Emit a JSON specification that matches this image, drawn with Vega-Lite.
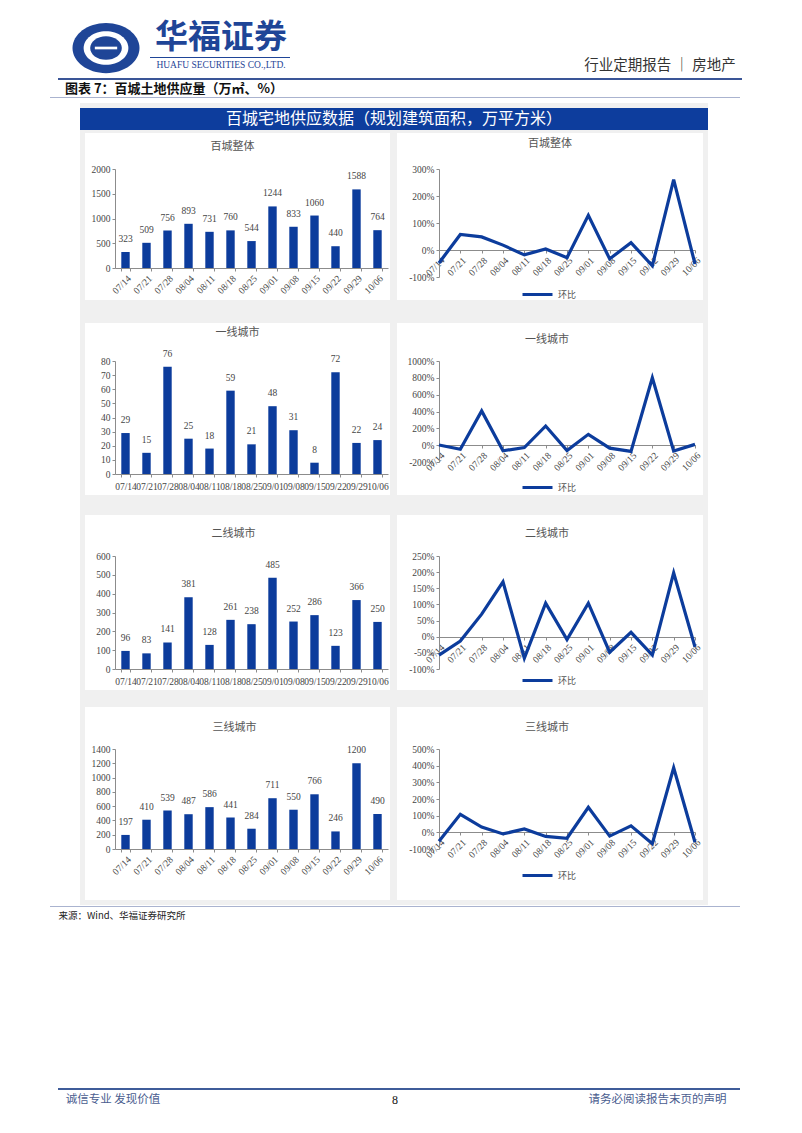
{
"$schema": "https://vega.github.io/schema/vega-lite/v6.json",
"padding": 0,
"background": "white",
"spacing": 0,
"resolve": {"scale": {"color": "independent"}, "legend": {"color": "independent"}},
"config": {
  "view": {"stroke": null},
  "concat": {"spacing": 0},
  "axis": {"domainColor": "#8c8c8c", "tickColor": "#8c8c8c", "labelColor": "#454545", "labelFont": "Liberation Serif", "labelFontSize": 9.5, "grid": false, "tickSize": 3, "labelPadding": 2, "labelOverlap": false},
  "text": {"font": "Noto Sans CJK SC"}
},
"datasets": {
  "weekly": [
    {"g": "百城整体", "d": "07/14", "v": 323, "m": -0.48},
    {"g": "百城整体", "d": "07/21", "v": 509, "m": 0.576},
    {"g": "百城整体", "d": "07/28", "v": 756, "m": 0.485},
    {"g": "百城整体", "d": "08/04", "v": 893, "m": 0.181},
    {"g": "百城整体", "d": "08/11", "v": 731, "m": -0.181},
    {"g": "百城整体", "d": "08/18", "v": 760, "m": 0.04},
    {"g": "百城整体", "d": "08/25", "v": 544, "m": -0.284},
    {"g": "百城整体", "d": "09/01", "v": 1244, "m": 1.287},
    {"g": "百城整体", "d": "09/08", "v": 833, "m": -0.33},
    {"g": "百城整体", "d": "09/15", "v": 1060, "m": 0.273},
    {"g": "百城整体", "d": "09/22", "v": 440, "m": -0.585},
    {"g": "百城整体", "d": "09/29", "v": 1588, "m": 2.609},
    {"g": "百城整体", "d": "10/06", "v": 764, "m": -0.519},
    {"g": "一线城市", "d": "07/14", "v": 29, "m": 0.02},
    {"g": "一线城市", "d": "07/21", "v": 15, "m": -0.483},
    {"g": "一线城市", "d": "07/28", "v": 76, "m": 4.067},
    {"g": "一线城市", "d": "08/04", "v": 25, "m": -0.671},
    {"g": "一线城市", "d": "08/11", "v": 18, "m": -0.28},
    {"g": "一线城市", "d": "08/18", "v": 59, "m": 2.278},
    {"g": "一线城市", "d": "08/25", "v": 21, "m": -0.644},
    {"g": "一线城市", "d": "09/01", "v": 48, "m": 1.286},
    {"g": "一线城市", "d": "09/08", "v": 31, "m": -0.354},
    {"g": "一线城市", "d": "09/15", "v": 8, "m": -0.742},
    {"g": "一线城市", "d": "09/22", "v": 72, "m": 8.0},
    {"g": "一线城市", "d": "09/29", "v": 22, "m": -0.694},
    {"g": "一线城市", "d": "10/06", "v": 24, "m": 0.091},
    {"g": "二线城市", "d": "07/14", "v": 96, "m": -0.57},
    {"g": "二线城市", "d": "07/21", "v": 83, "m": -0.135},
    {"g": "二线城市", "d": "07/28", "v": 141, "m": 0.699},
    {"g": "二线城市", "d": "08/04", "v": 381, "m": 1.702},
    {"g": "二线城市", "d": "08/11", "v": 128, "m": -0.664},
    {"g": "二线城市", "d": "08/18", "v": 261, "m": 1.039},
    {"g": "二线城市", "d": "08/25", "v": 238, "m": -0.088},
    {"g": "二线城市", "d": "09/01", "v": 485, "m": 1.038},
    {"g": "二线城市", "d": "09/08", "v": 252, "m": -0.48},
    {"g": "二线城市", "d": "09/15", "v": 286, "m": 0.135},
    {"g": "二线城市", "d": "09/22", "v": 123, "m": -0.57},
    {"g": "二线城市", "d": "09/29", "v": 366, "m": 1.976},
    {"g": "二线城市", "d": "10/06", "v": 250, "m": -0.317},
    {"g": "三线城市", "d": "07/14", "v": 197, "m": -0.53},
    {"g": "三线城市", "d": "07/21", "v": 410, "m": 1.081},
    {"g": "三线城市", "d": "07/28", "v": 539, "m": 0.315},
    {"g": "三线城市", "d": "08/04", "v": 487, "m": -0.096},
    {"g": "三线城市", "d": "08/11", "v": 586, "m": 0.203},
    {"g": "三线城市", "d": "08/18", "v": 441, "m": -0.247},
    {"g": "三线城市", "d": "08/25", "v": 284, "m": -0.356},
    {"g": "三线城市", "d": "09/01", "v": 711, "m": 1.504},
    {"g": "三线城市", "d": "09/08", "v": 550, "m": -0.226},
    {"g": "三线城市", "d": "09/15", "v": 766, "m": 0.393},
    {"g": "三线城市", "d": "09/22", "v": 246, "m": -0.679},
    {"g": "三线城市", "d": "09/29", "v": 1200, "m": 3.878},
    {"g": "三线城市", "d": "10/06", "v": 490, "m": -0.592}
  ]
},
"vconcat": [
  {"width": 802, "height": 18, "data": {"values": []}, "mark": "point"},
  {"hconcat": [
    {"width": 72, "height": 60, "data": {"values": []}, "mark": "point"},
    {"width": 68, "height": 60, "data": {"values": [{"k": 1}]}, "layer": [
      {"mark": {"type": "point", "shape": "M -1 0 A 1 0.75 0 1 0 1 0 A 1 0.75 0 1 0 -1 0 Z", "filled": true, "size": 4489, "color": "#1f4597", "opacity": 1}},
      {"mark": {"type": "point", "shape": "M -1 0 A 1 0.75 0 1 0 1 0 A 1 0.75 0 1 0 -1 0 Z", "filled": true, "size": 2000, "color": "#ffffff", "opacity": 1}},
      {"mark": {"type": "point", "shape": "M -1 0 A 1 0.75 0 1 0 1 0 A 1 0.75 0 1 0 -1 0 Z", "filled": true, "size": 1000, "color": "#1f4597", "opacity": 1}},
      {"mark": {"type": "point", "shape": "M -1 -0.12 L 1 -0.12 L 1 0.12 L -1 0.12 Z", "filled": true, "size": 500, "color": "#ffffff", "opacity": 1}}
    ]},
    {"width": 10, "height": 60, "data": {"values": []}, "mark": "point"},
    {"vconcat": [
      {"width": 142, "height": 3, "data": {"values": []}, "mark": "point"},
      {"width": 142, "height": 34, "data": {"values": [{"t": "华福证券"}]}, "mark": {"type": "text", "font": "Noto Sans CJK SC", "fontWeight": "bold", "fontSize": 33, "color": "#1f4597"}, "encoding": {"text": {"field": "t"}}},
      {"width": 142, "height": 2, "data": {"values": []}, "mark": "point"},
      {"width": 140, "height": 1, "data": {"values": []}, "mark": "point", "view": {"fill": "#1f4597"}},
      {"width": 142, "height": 1, "data": {"values": []}, "mark": "point"},
      {"width": 142, "height": 12, "data": {"values": [{"t": "HUAFU SECURITIES CO.,LTD."}]}, "mark": {"type": "text", "font": "Liberation Serif", "fontSize": 9.5, "color": "#1f4597"}, "encoding": {"text": {"field": "t"}}}
    ], "spacing": 0},
    {"width": 286, "height": 60, "data": {"values": []}, "mark": "point"},
    {"vconcat": [
      {"width": 164, "height": 40, "data": {"values": []}, "mark": "point"},
      {"width": 164, "height": 16, "data": {"values": [{"t": "行业定期报告 ｜ 房地产"}]}, "mark": {"type": "text", "font": "Noto Sans CJK SC", "fontSize": 14.5, "color": "#333333"}, "encoding": {"text": {"field": "t"}}}
    ], "spacing": 0}
  ], "spacing": 0},
  {"hconcat": [
    {"width": 58, "height": 2, "data": {"values": []}, "mark": "point"},
    {"width": 684, "height": 2, "data": {"values": []}, "mark": "point", "view": {"fill": "#3a5597"}}
  ], "spacing": 0},
  {"hconcat": [
    {"width": 58, "height": 17, "data": {"values": []}, "mark": "point"},
    {"width": 232, "height": 17, "data": {"values": [{"t": "图表 7：百城土地供应量（万㎡、%）"}]}, "mark": {"type": "text", "font": "Noto Sans CJK SC", "fontWeight": "bold", "fontSize": 13, "color": "#111111"}, "encoding": {"text": {"field": "t"}}}
  ], "spacing": 0},
  {"hconcat": [
    {"width": 50, "height": 1, "data": {"values": []}, "mark": "point"},
    {"width": 690, "height": 1, "data": {"values": []}, "mark": "point", "view": {"fill": "#aab3cf"}}
  ], "spacing": 0},
  {"width": 802, "height": 5, "data": {"values": []}, "mark": "point"},
  {"hconcat": [
    {"width": 80, "height": 5, "data": {"values": []}, "mark": "point"},
    {"width": 628, "height": 5, "data": {"values": []}, "mark": "point", "view": {"fill": "#f0f0f0"}}
  ], "spacing": 0},
  {"hconcat": [
    {"width": 80, "height": 22, "data": {"values": []}, "mark": "point"},
    {"width": 628, "height": 22, "data": {"values": [{"t": "百城宅地供应数据（规划建筑面积，万平方米）"}]}, "mark": {"type": "text", "font": "Noto Sans CJK SC", "fontSize": 16, "color": "#ffffff"}, "encoding": {"text": {"field": "t"}}, "view": {"fill": "#0d3d9d"}}
  ], "spacing": 0},
  {"concat": [
    {"width": 80, "height": 3, "data": {"values": []}, "mark": "point"},
    {"width": 5, "height": 3, "data": {"values": []}, "mark": "point", "view": {"fill": "#f0f0f0"}},
    {"width": 30, "height": 3, "data": {"values": []}, "mark": "point", "view": {"fill": "#f0f0f0"}},
    {"width": 273, "height": 3, "data": {"values": []}, "mark": "point", "view": {"fill": "#f0f0f0"}},
    {"width": 2, "height": 3, "data": {"values": []}, "mark": "point", "view": {"fill": "#f0f0f0"}},
    {"width": 7, "height": 3, "data": {"values": []}, "mark": "point", "view": {"fill": "#f0f0f0"}},
    {"width": 42, "height": 3, "data": {"values": []}, "mark": "point", "view": {"fill": "#f0f0f0"}},
    {"width": 256, "height": 3, "data": {"values": []}, "mark": "point", "view": {"fill": "#f0f0f0"}},
    {"width": 8, "height": 3, "data": {"values": []}, "mark": "point", "view": {"fill": "#f0f0f0"}},
    {"width": 5, "height": 3, "data": {"values": []}, "mark": "point", "view": {"fill": "#f0f0f0"}},

    {"width": 1, "height": 1, "data": {"values": []}, "mark": "point"},
    {"width": 5, "height": 36, "data": {"values": []}, "mark": "point", "view": {"fill": "#f0f0f0"}},
    {"width": 1, "height": 1, "data": {"values": []}, "mark": "point"},
    {"width": 1, "height": 1, "data": {"values": []}, "mark": "point"},
    {"width": 1, "height": 1, "data": {"values": []}, "mark": "point"},
    {"width": 7, "height": 36, "data": {"values": []}, "mark": "point", "view": {"fill": "#f0f0f0"}},
    {"width": 1, "height": 1, "data": {"values": []}, "mark": "point"},
    {"width": 1, "height": 1, "data": {"values": []}, "mark": "point"},
    {"width": 1, "height": 1, "data": {"values": []}, "mark": "point"},
    {"width": 5, "height": 36, "data": {"values": []}, "mark": "point", "view": {"fill": "#f0f0f0"}},

    {"width": 1, "height": 1, "data": {"values": []}, "mark": "point"},
    {"width": 5, "height": 108, "data": {"values": []}, "mark": "point", "view": {"fill": "#f0f0f0"}},
    {"width": 1, "height": 1, "data": {"values": []}, "mark": "point"},
    {
      "width": 273, "height": 99,
      "data": {"name": "weekly"},
      "transform": [{"filter": "datum.g === '百城整体'"}],
      "title": {"text": "百城整体", "font": "Noto Sans CJK SC", "fontSize": 11, "fontWeight": "normal", "color": "#555555", "frame": "group", "anchor": "middle", "dx": -19, "offset": 12},
      "encoding": {
        "x": {"field": "d", "type": "ordinal", "sort": null, "title": null, "scale": {"paddingInner": 0.6, "paddingOuter": 0.3}, "axis": {"labelAngle": -45, "tickBand": "extent"}},
        "y": {"field": "v", "type": "quantitative", "title": null, "scale": {"domain": [0, 2000], "nice": false}, "axis": {"values": [0, 500, 1000, 1500, 2000], "format": "d"}}
      },
      "layer": [
        {"mark": {"type": "bar", "color": "#0c3c9c"}},
        {"mark": {"type": "text", "dy": -13, "baseline": "middle", "font": "Liberation Serif", "fontSize": 9.5, "color": "#444444"}, "encoding": {"text": {"field": "v"}}}
      ]
    },
    {"width": 1, "height": 1, "data": {"values": []}, "mark": "point"},
    {"width": 7, "height": 108, "data": {"values": []}, "mark": "point", "view": {"fill": "#f0f0f0"}},
    {"width": 1, "height": 1, "data": {"values": []}, "mark": "point"},
    {
      "width": 256, "height": 108,
      "data": {"name": "weekly"},
      "transform": [{"filter": "datum.g === '百城整体'"}],
      "title": {"text": "百城整体", "font": "Noto Sans CJK SC", "fontSize": 11, "fontWeight": "normal", "color": "#555555", "frame": "group", "anchor": "middle", "dx": -17, "offset": 15},
      "mark": {"type": "line", "strokeWidth": 3.2},
      "encoding": {
        "x": {"field": "d", "type": "ordinal", "sort": null, "title": null, "scale": {"type": "point", "padding": 0}, "axis": {"labelAngle": -45, "offset": -27, "labelFlush": false}},
        "y": {"field": "m", "type": "quantitative", "title": null, "scale": {"domain": [-1, 3], "nice": false}, "axis": {"values": [-1, 0, 1, 2, 3], "labelExpr": "round(datum.value*100) + '%'"}},
        "color": {"datum": "环比", "scale": {"range": ["#0c3c9c"]}, "legend": {"orient": "none", "legendX": 82, "legendY": 109, "direction": "horizontal", "title": null, "symbolType": "stroke", "symbolSize": 900, "symbolStrokeWidth": 3, "labelFont": "Noto Sans CJK SC", "labelFontSize": 9, "labelColor": "#555555", "padding": 0}}
      }
    },
    {"width": 1, "height": 1, "data": {"values": []}, "mark": "point"},
    {"width": 5, "height": 108, "data": {"values": []}, "mark": "point", "view": {"fill": "#f0f0f0"}},

    {"width": 1, "height": 1, "data": {"values": []}, "mark": "point"},
    {"width": 5, "height": 23, "data": {"values": []}, "mark": "point", "view": {"fill": "#f0f0f0"}},
    {"width": 1, "height": 1, "data": {"values": []}, "mark": "point"},
    {"width": 1, "height": 1, "data": {"values": []}, "mark": "point"},
    {"width": 1, "height": 1, "data": {"values": []}, "mark": "point"},
    {"width": 7, "height": 23, "data": {"values": []}, "mark": "point", "view": {"fill": "#f0f0f0"}},
    {"width": 1, "height": 1, "data": {"values": []}, "mark": "point"},
    {"width": 1, "height": 1, "data": {"values": []}, "mark": "point"},
    {"width": 1, "height": 1, "data": {"values": []}, "mark": "point"},
    {"width": 5, "height": 23, "data": {"values": []}, "mark": "point", "view": {"fill": "#f0f0f0"}},

    {"width": 1, "height": 1, "data": {"values": []}, "mark": "point"},
    {"width": 5, "height": 23, "data": {"values": []}, "mark": "point", "view": {"fill": "#f0f0f0"}},
    {"width": 30, "height": 23, "data": {"values": []}, "mark": "point", "view": {"fill": "#f0f0f0"}},
    {"width": 273, "height": 23, "data": {"values": []}, "mark": "point", "view": {"fill": "#f0f0f0"}},
    {"width": 2, "height": 23, "data": {"values": []}, "mark": "point", "view": {"fill": "#f0f0f0"}},
    {"width": 7, "height": 23, "data": {"values": []}, "mark": "point", "view": {"fill": "#f0f0f0"}},
    {"width": 42, "height": 23, "data": {"values": []}, "mark": "point", "view": {"fill": "#f0f0f0"}},
    {"width": 256, "height": 23, "data": {"values": []}, "mark": "point", "view": {"fill": "#f0f0f0"}},
    {"width": 8, "height": 23, "data": {"values": []}, "mark": "point", "view": {"fill": "#f0f0f0"}},
    {"width": 5, "height": 23, "data": {"values": []}, "mark": "point", "view": {"fill": "#f0f0f0"}},

    {"width": 1, "height": 1, "data": {"values": []}, "mark": "point"},
    {"width": 5, "height": 38, "data": {"values": []}, "mark": "point", "view": {"fill": "#f0f0f0"}},
    {"width": 1, "height": 1, "data": {"values": []}, "mark": "point"},
    {"width": 1, "height": 1, "data": {"values": []}, "mark": "point"},
    {"width": 1, "height": 1, "data": {"values": []}, "mark": "point"},
    {"width": 7, "height": 38, "data": {"values": []}, "mark": "point", "view": {"fill": "#f0f0f0"}},
    {"width": 1, "height": 1, "data": {"values": []}, "mark": "point"},
    {"width": 1, "height": 1, "data": {"values": []}, "mark": "point"},
    {"width": 1, "height": 1, "data": {"values": []}, "mark": "point"},
    {"width": 5, "height": 38, "data": {"values": []}, "mark": "point", "view": {"fill": "#f0f0f0"}},

    {"width": 1, "height": 1, "data": {"values": []}, "mark": "point"},
    {"width": 5, "height": 113, "data": {"values": []}, "mark": "point", "view": {"fill": "#f0f0f0"}},
    {"width": 1, "height": 1, "data": {"values": []}, "mark": "point"},
    {
      "width": 273, "height": 113,
      "data": {"name": "weekly"},
      "transform": [{"filter": "datum.g === '一线城市'"}],
      "title": {"text": "一线城市", "font": "Noto Sans CJK SC", "fontSize": 11, "fontWeight": "normal", "color": "#555555", "frame": "group", "anchor": "middle", "dx": -14, "offset": 11},
      "encoding": {
        "x": {"field": "d", "type": "ordinal", "sort": null, "title": null, "scale": {"paddingInner": 0.6, "paddingOuter": 0.3}, "axis": {"labelAngle": 0, "tickBand": "extent", "labelPadding": 4}},
        "y": {"field": "v", "type": "quantitative", "title": null, "scale": {"domain": [0, 80], "nice": false}, "axis": {"values": [0, 10, 20, 30, 40, 50, 60, 70, 80], "format": "d"}}
      },
      "layer": [
        {"mark": {"type": "bar", "color": "#0c3c9c"}},
        {"mark": {"type": "text", "dy": -13, "baseline": "middle", "font": "Liberation Serif", "fontSize": 9.5, "color": "#444444"}, "encoding": {"text": {"field": "v"}}}
      ]
    },
    {"width": 1, "height": 1, "data": {"values": []}, "mark": "point"},
    {"width": 7, "height": 113, "data": {"values": []}, "mark": "point", "view": {"fill": "#f0f0f0"}},
    {"width": 1, "height": 1, "data": {"values": []}, "mark": "point"},
    {
      "width": 256, "height": 101,
      "data": {"name": "weekly"},
      "transform": [{"filter": "datum.g === '一线城市'"}],
      "title": {"text": "一线城市", "font": "Noto Sans CJK SC", "fontSize": 11, "fontWeight": "normal", "color": "#555555", "frame": "group", "anchor": "middle", "dx": -20, "offset": 11},
      "mark": {"type": "line", "strokeWidth": 3.2},
      "encoding": {
        "x": {"field": "d", "type": "ordinal", "sort": null, "title": null, "scale": {"type": "point", "padding": 0}, "axis": {"labelAngle": -45, "offset": -17, "labelFlush": false}},
        "y": {"field": "m", "type": "quantitative", "title": null, "scale": {"domain": [-2, 10], "nice": false}, "axis": {"values": [-2, 0, 2, 4, 6, 8, 10], "labelExpr": "round(datum.value*100) + '%'"}},
        "color": {"datum": "环比", "scale": {"range": ["#0c3c9c"]}, "legend": {"orient": "none", "legendX": 82, "legendY": 110, "direction": "horizontal", "title": null, "symbolType": "stroke", "symbolSize": 900, "symbolStrokeWidth": 3, "labelFont": "Noto Sans CJK SC", "labelFontSize": 9, "labelColor": "#555555", "padding": 0}}
      }
    },
    {"width": 1, "height": 1, "data": {"values": []}, "mark": "point"},
    {"width": 5, "height": 113, "data": {"values": []}, "mark": "point", "view": {"fill": "#f0f0f0"}},

    {"width": 1, "height": 1, "data": {"values": []}, "mark": "point"},
    {"width": 5, "height": 21, "data": {"values": []}, "mark": "point", "view": {"fill": "#f0f0f0"}},
    {"width": 1, "height": 1, "data": {"values": []}, "mark": "point"},
    {"width": 1, "height": 1, "data": {"values": []}, "mark": "point"},
    {"width": 1, "height": 1, "data": {"values": []}, "mark": "point"},
    {"width": 7, "height": 21, "data": {"values": []}, "mark": "point", "view": {"fill": "#f0f0f0"}},
    {"width": 1, "height": 1, "data": {"values": []}, "mark": "point"},
    {"width": 1, "height": 1, "data": {"values": []}, "mark": "point"},
    {"width": 1, "height": 1, "data": {"values": []}, "mark": "point"},
    {"width": 5, "height": 21, "data": {"values": []}, "mark": "point", "view": {"fill": "#f0f0f0"}},

    {"width": 1, "height": 1, "data": {"values": []}, "mark": "point"},
    {"width": 5, "height": 20, "data": {"values": []}, "mark": "point", "view": {"fill": "#f0f0f0"}},
    {"width": 30, "height": 20, "data": {"values": []}, "mark": "point", "view": {"fill": "#f0f0f0"}},
    {"width": 273, "height": 20, "data": {"values": []}, "mark": "point", "view": {"fill": "#f0f0f0"}},
    {"width": 2, "height": 20, "data": {"values": []}, "mark": "point", "view": {"fill": "#f0f0f0"}},
    {"width": 7, "height": 20, "data": {"values": []}, "mark": "point", "view": {"fill": "#f0f0f0"}},
    {"width": 42, "height": 20, "data": {"values": []}, "mark": "point", "view": {"fill": "#f0f0f0"}},
    {"width": 256, "height": 20, "data": {"values": []}, "mark": "point", "view": {"fill": "#f0f0f0"}},
    {"width": 8, "height": 20, "data": {"values": []}, "mark": "point", "view": {"fill": "#f0f0f0"}},
    {"width": 5, "height": 20, "data": {"values": []}, "mark": "point", "view": {"fill": "#f0f0f0"}},

    {"width": 1, "height": 1, "data": {"values": []}, "mark": "point"},
    {"width": 5, "height": 41, "data": {"values": []}, "mark": "point", "view": {"fill": "#f0f0f0"}},
    {"width": 1, "height": 1, "data": {"values": []}, "mark": "point"},
    {"width": 1, "height": 1, "data": {"values": []}, "mark": "point"},
    {"width": 1, "height": 1, "data": {"values": []}, "mark": "point"},
    {"width": 7, "height": 41, "data": {"values": []}, "mark": "point", "view": {"fill": "#f0f0f0"}},
    {"width": 1, "height": 1, "data": {"values": []}, "mark": "point"},
    {"width": 1, "height": 1, "data": {"values": []}, "mark": "point"},
    {"width": 1, "height": 1, "data": {"values": []}, "mark": "point"},
    {"width": 5, "height": 41, "data": {"values": []}, "mark": "point", "view": {"fill": "#f0f0f0"}},

    {"width": 1, "height": 1, "data": {"values": []}, "mark": "point"},
    {"width": 5, "height": 113, "data": {"values": []}, "mark": "point", "view": {"fill": "#f0f0f0"}},
    {"width": 1, "height": 1, "data": {"values": []}, "mark": "point"},
    {
      "width": 273, "height": 113,
      "data": {"name": "weekly"},
      "transform": [{"filter": "datum.g === '二线城市'"}],
      "title": {"text": "二线城市", "font": "Noto Sans CJK SC", "fontSize": 11, "fontWeight": "normal", "color": "#555555", "frame": "group", "anchor": "middle", "dx": -18, "offset": 12},
      "encoding": {
        "x": {"field": "d", "type": "ordinal", "sort": null, "title": null, "scale": {"paddingInner": 0.6, "paddingOuter": 0.3}, "axis": {"labelAngle": 0, "tickBand": "extent", "labelPadding": 4}},
        "y": {"field": "v", "type": "quantitative", "title": null, "scale": {"domain": [0, 600], "nice": false}, "axis": {"values": [0, 100, 200, 300, 400, 500, 600], "format": "d"}}
      },
      "layer": [
        {"mark": {"type": "bar", "color": "#0c3c9c"}},
        {"mark": {"type": "text", "dy": -13, "baseline": "middle", "font": "Liberation Serif", "fontSize": 9.5, "color": "#444444"}, "encoding": {"text": {"field": "v"}}}
      ]
    },
    {"width": 1, "height": 1, "data": {"values": []}, "mark": "point"},
    {"width": 7, "height": 113, "data": {"values": []}, "mark": "point", "view": {"fill": "#f0f0f0"}},
    {"width": 1, "height": 1, "data": {"values": []}, "mark": "point"},
    {
      "width": 256, "height": 113,
      "data": {"name": "weekly"},
      "transform": [{"filter": "datum.g === '二线城市'"}],
      "title": {"text": "二线城市", "font": "Noto Sans CJK SC", "fontSize": 11, "fontWeight": "normal", "color": "#555555", "frame": "group", "anchor": "middle", "dx": -20, "offset": 12},
      "mark": {"type": "line", "strokeWidth": 3.2},
      "encoding": {
        "x": {"field": "d", "type": "ordinal", "sort": null, "title": null, "scale": {"type": "point", "padding": 0}, "axis": {"labelAngle": -45, "offset": -32, "labelFlush": false}},
        "y": {"field": "m", "type": "quantitative", "title": null, "scale": {"domain": [-1, 2.5], "nice": false}, "axis": {"values": [-1, -0.5, 0, 0.5, 1, 1.5, 2, 2.5], "labelExpr": "round(datum.value*100) + '%'"}},
        "color": {"datum": "环比", "scale": {"range": ["#0c3c9c"]}, "legend": {"orient": "none", "legendX": 82, "legendY": 108, "direction": "horizontal", "title": null, "symbolType": "stroke", "symbolSize": 900, "symbolStrokeWidth": 3, "labelFont": "Noto Sans CJK SC", "labelFontSize": 9, "labelColor": "#555555", "padding": 0}}
      }
    },
    {"width": 1, "height": 1, "data": {"values": []}, "mark": "point"},
    {"width": 5, "height": 113, "data": {"values": []}, "mark": "point", "view": {"fill": "#f0f0f0"}},

    {"width": 1, "height": 1, "data": {"values": []}, "mark": "point"},
    {"width": 5, "height": 21, "data": {"values": []}, "mark": "point", "view": {"fill": "#f0f0f0"}},
    {"width": 1, "height": 1, "data": {"values": []}, "mark": "point"},
    {"width": 1, "height": 1, "data": {"values": []}, "mark": "point"},
    {"width": 1, "height": 1, "data": {"values": []}, "mark": "point"},
    {"width": 7, "height": 21, "data": {"values": []}, "mark": "point", "view": {"fill": "#f0f0f0"}},
    {"width": 1, "height": 1, "data": {"values": []}, "mark": "point"},
    {"width": 1, "height": 1, "data": {"values": []}, "mark": "point"},
    {"width": 1, "height": 1, "data": {"values": []}, "mark": "point"},
    {"width": 5, "height": 21, "data": {"values": []}, "mark": "point", "view": {"fill": "#f0f0f0"}},

    {"width": 1, "height": 1, "data": {"values": []}, "mark": "point"},
    {"width": 5, "height": 17, "data": {"values": []}, "mark": "point", "view": {"fill": "#f0f0f0"}},
    {"width": 30, "height": 17, "data": {"values": []}, "mark": "point", "view": {"fill": "#f0f0f0"}},
    {"width": 273, "height": 17, "data": {"values": []}, "mark": "point", "view": {"fill": "#f0f0f0"}},
    {"width": 2, "height": 17, "data": {"values": []}, "mark": "point", "view": {"fill": "#f0f0f0"}},
    {"width": 7, "height": 17, "data": {"values": []}, "mark": "point", "view": {"fill": "#f0f0f0"}},
    {"width": 42, "height": 17, "data": {"values": []}, "mark": "point", "view": {"fill": "#f0f0f0"}},
    {"width": 256, "height": 17, "data": {"values": []}, "mark": "point", "view": {"fill": "#f0f0f0"}},
    {"width": 8, "height": 17, "data": {"values": []}, "mark": "point", "view": {"fill": "#f0f0f0"}},
    {"width": 5, "height": 17, "data": {"values": []}, "mark": "point", "view": {"fill": "#f0f0f0"}},

    {"width": 1, "height": 1, "data": {"values": []}, "mark": "point"},
    {"width": 5, "height": 42, "data": {"values": []}, "mark": "point", "view": {"fill": "#f0f0f0"}},
    {"width": 1, "height": 1, "data": {"values": []}, "mark": "point"},
    {"width": 1, "height": 1, "data": {"values": []}, "mark": "point"},
    {"width": 1, "height": 1, "data": {"values": []}, "mark": "point"},
    {"width": 7, "height": 42, "data": {"values": []}, "mark": "point", "view": {"fill": "#f0f0f0"}},
    {"width": 1, "height": 1, "data": {"values": []}, "mark": "point"},
    {"width": 1, "height": 1, "data": {"values": []}, "mark": "point"},
    {"width": 1, "height": 1, "data": {"values": []}, "mark": "point"},
    {"width": 5, "height": 42, "data": {"values": []}, "mark": "point", "view": {"fill": "#f0f0f0"}},

    {"width": 1, "height": 1, "data": {"values": []}, "mark": "point"},
    {"width": 5, "height": 100, "data": {"values": []}, "mark": "point", "view": {"fill": "#f0f0f0"}},
    {"width": 1, "height": 1, "data": {"values": []}, "mark": "point"},
    {
      "width": 273, "height": 100,
      "data": {"name": "weekly"},
      "transform": [{"filter": "datum.g === '三线城市'"}],
      "title": {"text": "三线城市", "font": "Noto Sans CJK SC", "fontSize": 11, "fontWeight": "normal", "color": "#555555", "frame": "group", "anchor": "middle", "dx": -17, "offset": 11},
      "encoding": {
        "x": {"field": "d", "type": "ordinal", "sort": null, "title": null, "scale": {"paddingInner": 0.6, "paddingOuter": 0.3}, "axis": {"labelAngle": -45, "tickBand": "extent"}},
        "y": {"field": "v", "type": "quantitative", "title": null, "scale": {"domain": [0, 1400], "nice": false}, "axis": {"values": [0, 200, 400, 600, 800, 1000, 1200, 1400], "format": "d"}}
      },
      "layer": [
        {"mark": {"type": "bar", "color": "#0c3c9c"}},
        {"mark": {"type": "text", "dy": -13, "baseline": "middle", "font": "Liberation Serif", "fontSize": 9.5, "color": "#444444"}, "encoding": {"text": {"field": "v"}}}
      ]
    },
    {"width": 1, "height": 1, "data": {"values": []}, "mark": "point"},
    {"width": 7, "height": 100, "data": {"values": []}, "mark": "point", "view": {"fill": "#f0f0f0"}},
    {"width": 1, "height": 1, "data": {"values": []}, "mark": "point"},
    {
      "width": 256, "height": 100,
      "data": {"name": "weekly"},
      "transform": [{"filter": "datum.g === '三线城市'"}],
      "title": {"text": "三线城市", "font": "Noto Sans CJK SC", "fontSize": 11, "fontWeight": "normal", "color": "#555555", "frame": "group", "anchor": "middle", "dx": -20, "offset": 11},
      "mark": {"type": "line", "strokeWidth": 3.2},
      "encoding": {
        "x": {"field": "d", "type": "ordinal", "sort": null, "title": null, "scale": {"type": "point", "padding": 0}, "axis": {"labelAngle": -45, "offset": -17, "labelFlush": false}},
        "y": {"field": "m", "type": "quantitative", "title": null, "scale": {"domain": [-1, 5], "nice": false}, "axis": {"values": [-1, 0, 1, 2, 3, 4, 5], "labelExpr": "round(datum.value*100) + '%'"}},
        "color": {"datum": "环比", "scale": {"range": ["#0c3c9c"]}, "legend": {"orient": "none", "legendX": 82, "legendY": 110, "direction": "horizontal", "title": null, "symbolType": "stroke", "symbolSize": 900, "symbolStrokeWidth": 3, "labelFont": "Noto Sans CJK SC", "labelFontSize": 9, "labelColor": "#555555", "padding": 0}}
      }
    },
    {"width": 1, "height": 1, "data": {"values": []}, "mark": "point"},
    {"width": 5, "height": 100, "data": {"values": []}, "mark": "point", "view": {"fill": "#f0f0f0"}},

    {"width": 1, "height": 1, "data": {"values": []}, "mark": "point"},
    {"width": 5, "height": 51, "data": {"values": []}, "mark": "point", "view": {"fill": "#f0f0f0"}},
    {"width": 1, "height": 1, "data": {"values": []}, "mark": "point"},
    {"width": 1, "height": 1, "data": {"values": []}, "mark": "point"},
    {"width": 1, "height": 1, "data": {"values": []}, "mark": "point"},
    {"width": 7, "height": 51, "data": {"values": []}, "mark": "point", "view": {"fill": "#f0f0f0"}},
    {"width": 1, "height": 1, "data": {"values": []}, "mark": "point"},
    {"width": 1, "height": 1, "data": {"values": []}, "mark": "point"},
    {"width": 1, "height": 1, "data": {"values": []}, "mark": "point"},
    {"width": 5, "height": 51, "data": {"values": []}, "mark": "point", "view": {"fill": "#f0f0f0"}},

    {"width": 1, "height": 1, "data": {"values": []}, "mark": "point"},
    {"width": 5, "height": 5, "data": {"values": []}, "mark": "point", "view": {"fill": "#f0f0f0"}},
    {"width": 30, "height": 5, "data": {"values": []}, "mark": "point", "view": {"fill": "#f0f0f0"}},
    {"width": 273, "height": 5, "data": {"values": []}, "mark": "point", "view": {"fill": "#f0f0f0"}},
    {"width": 2, "height": 5, "data": {"values": []}, "mark": "point", "view": {"fill": "#f0f0f0"}},
    {"width": 7, "height": 5, "data": {"values": []}, "mark": "point", "view": {"fill": "#f0f0f0"}},
    {"width": 42, "height": 5, "data": {"values": []}, "mark": "point", "view": {"fill": "#f0f0f0"}},
    {"width": 256, "height": 5, "data": {"values": []}, "mark": "point", "view": {"fill": "#f0f0f0"}},
    {"width": 8, "height": 5, "data": {"values": []}, "mark": "point", "view": {"fill": "#f0f0f0"}},
    {"width": 5, "height": 5, "data": {"values": []}, "mark": "point", "view": {"fill": "#f0f0f0"}}
  ], "columns": 10, "align": "each", "bounds": "flush", "spacing": 0, "resolve": {"scale": {"color": "independent"}, "legend": {"color": "independent"}}},
  {"width": 802, "height": 1, "data": {"values": []}, "mark": "point"},
  {"hconcat": [
    {"width": 50, "height": 1, "data": {"values": []}, "mark": "point"},
    {"width": 690, "height": 1, "data": {"values": []}, "mark": "point", "view": {"fill": "#aab3cf"}}
  ], "spacing": 0},
  {"hconcat": [
    {"width": 58, "height": 18, "data": {"values": []}, "mark": "point"},
    {"width": 128, "height": 18, "data": {"values": [{"t": "来源：Wind、华福证券研究所"}]}, "mark": {"type": "text", "font": "Noto Sans CJK SC", "fontSize": 9.5, "color": "#222222"}, "encoding": {"text": {"field": "t"}}}
  ], "spacing": 0},
  {"width": 802, "height": 163, "data": {"values": []}, "mark": "point"},
  {"hconcat": [
    {"width": 58, "height": 2, "data": {"values": []}, "mark": "point"},
    {"width": 682, "height": 2, "data": {"values": []}, "mark": "point", "view": {"fill": "#3f5c99"}}
  ], "spacing": 0},
  {"hconcat": [
    {"width": 58, "height": 20, "data": {"values": []}, "mark": "point"},
    {"width": 110, "height": 20, "data": {"values": [{"t": "诚信专业  发现价值"}]}, "mark": {"type": "text", "font": "Noto Sans CJK SC", "fontSize": 11.5, "color": "#4a5d8f"}, "encoding": {"text": {"field": "t"}}},
    {"width": 222, "height": 20, "data": {"values": []}, "mark": "point"},
    {"width": 10, "height": 20, "data": {"values": [{"t": "8"}]}, "mark": {"type": "text", "font": "Liberation Serif", "fontSize": 12, "color": "#111111"}, "encoding": {"text": {"field": "t"}}},
    {"width": 185, "height": 20, "data": {"values": []}, "mark": "point"},
    {"width": 145, "height": 20, "data": {"values": [{"t": "请务必阅读报告末页的声明"}]}, "mark": {"type": "text", "font": "Noto Sans CJK SC", "fontSize": 11.5, "color": "#4a5d8f"}, "encoding": {"text": {"field": "t"}}}
  ], "spacing": 0},
  {"width": 802, "height": 23, "data": {"values": []}, "mark": "point"}
]
}
